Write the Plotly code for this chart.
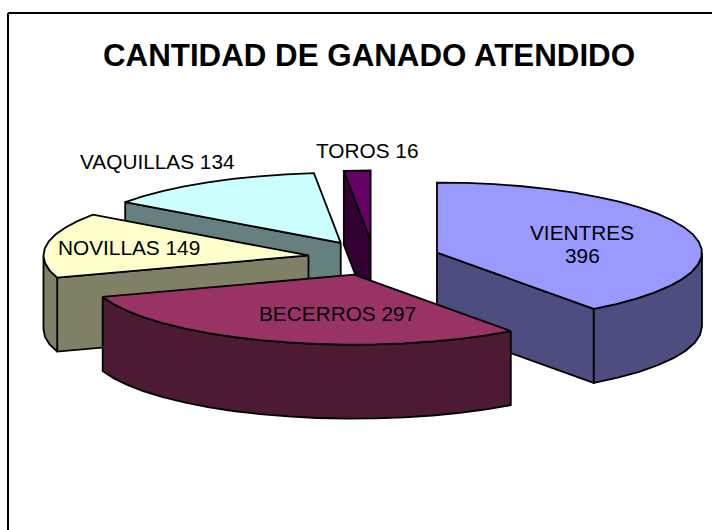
import numpy as np
import plotly.graph_objects as go

categories = ["VIENTRES", "BECERROS", "NOVILLAS", "VAQUILLAS", "TOROS"]
values = [396, 297, 149, 134, 16]
top_colors = ["#9999FF", "#993366", "#FFFFCC", "#CCFFFF", "#660066"]
side_colors = ["#4D4D80", "#4D1A33", "#808066", "#668080", "#330033"]
label_text = ["VIENTRES", "396", "BECERROS 297", "NOVILLAS 149", "VAQUILLAS 134", "TOROS 16"]
label_x = [582, 582, 337, 129, 157, 367]
label_y = [232, 255, 313, 247, 161, 150]

title = "CANTIDAD DE GANADO ATENDIDO"

# pie projection, in page pixels
cx, cy = 374, 258
rx, ry = 265, 70
depth = 74
explode = 0.25
arc_step = 6
draw_order = [4, 3, 2, 0, 1]  # back to front

total = sum(values)
edges = np.cumsum([0] + values) / total * 360


def point(ox, oy, deg):
    a = np.radians(deg)
    return ox + rx * np.sin(a), oy - ry * np.cos(a)


def arc(ox, oy, a0, a1):
    n = max(int(abs(a1 - a0) / arc_step), 1)
    return point(ox, oy, np.linspace(a0, a1, n + 1))


def face(xs, ys, color):
    return go.Scatter(x=list(xs), y=list(ys), mode="lines", fill="toself", fillcolor=color,
                      line=dict(color="black", width=1.8), hoverinfo="skip", showlegend=False)


fig = go.Figure()
for i in draw_order:
    a0, a1 = edges[i], edges[i + 1]
    mid = np.radians((a0 + a1) / 2)
    ox = cx + explode * rx * np.sin(mid)
    oy = cy - explode * ry * np.cos(mid)

    # cut faces that look toward the viewer
    for ang, show in ((a0, a0 > 180), (a1, a1 < 180)):
        if show:
            px_, py_ = point(ox, oy, ang)
            fig.add_trace(face([ox, px_, px_, ox, ox],
                               [oy, py_, py_ + depth, oy + depth, oy], side_colors[i]))

    # outer wall, only the front half of the rim shows
    lo, hi = max(a0, 90), min(a1, 270)
    if lo < hi:
        ax, ay = arc(ox, oy, lo, hi)
        fig.add_trace(face(np.r_[ax, ax[::-1], ax[0]],
                           np.r_[ay, ay[::-1] + depth, ay[0]], side_colors[i]))

    # top
    ax, ay = arc(ox, oy, a0, a1)
    fig.add_trace(face(np.r_[ox, ax, ox], np.r_[oy, ay, oy], top_colors[i]))

for txt, lx, ly in zip(label_text, label_x, label_y):
    fig.add_annotation(x=lx, y=ly, text=txt, showarrow=False,
                       font=dict(family="Liberation Sans", size=20.8, color="black"))

fig.add_annotation(x=369, y=55, text="<b>" + title + "</b>", showarrow=False,
                   font=dict(family="Liberation Sans", size=31.3, color="black"))

# chart border, right and bottom fall outside the page
fig.add_shape(type="line", x0=8, x1=8, y0=13, y1=530, line=dict(color="black", width=2))
fig.add_shape(type="line", x0=8, x1=712, y0=13, y1=13, line=dict(color="black", width=2))

fig.update_xaxes(range=[0, 712], visible=False, fixedrange=True)
fig.update_yaxes(range=[530, 0], visible=False, fixedrange=True)
fig.update_layout(width=712, height=530, margin=dict(l=0, r=0, t=0, b=0),
                  paper_bgcolor="white", plot_bgcolor="white", showlegend=False)

# the page's default body margin would push the chart off by 8px
fig.write_html("out.html", config=dict(displayModeBar=False),
               post_script="document.body.style.margin='0';")
